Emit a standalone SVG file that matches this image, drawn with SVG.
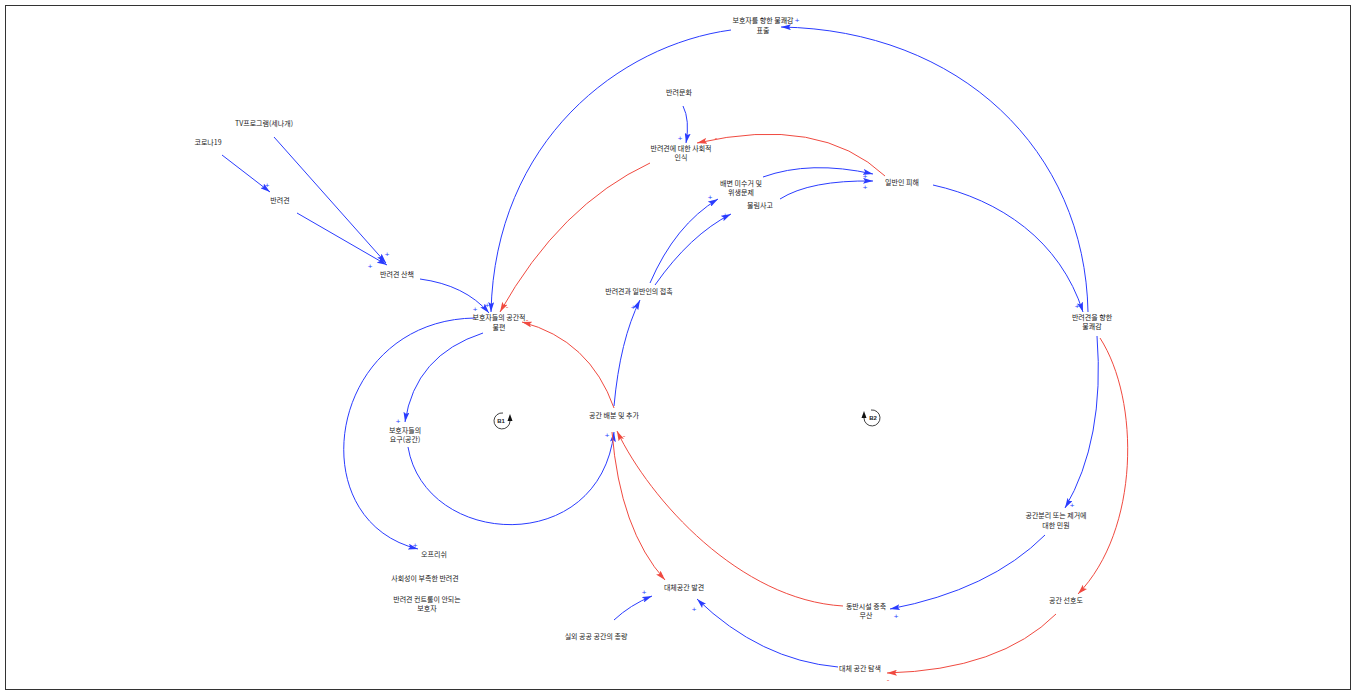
<svg xmlns="http://www.w3.org/2000/svg" width="1357" height="693" viewBox="0 0 1357 693">
<style>
.t{font-family:"Noto Sans CJK KR","Noto Sans",sans-serif;font-size:7px;fill:#222;text-anchor:middle}
.b{fill:none;stroke:#2a3cff;stroke-width:1}
.r{fill:none;stroke:#f04a40;stroke-width:1}
.pb{font-family:"Liberation Sans",sans-serif;font-size:8px;fill:#2a3cff;text-anchor:middle}
.pr{font-family:"Liberation Sans",sans-serif;font-size:8px;fill:#f04a40;text-anchor:middle}
.lp{font-family:"Liberation Sans",sans-serif;font-size:6px;fill:#222;text-anchor:middle;font-weight:bold}
.lc{fill:none;stroke:#111;stroke-width:0.8}
</style>
<defs>
<marker id="ab" viewBox="0 0 10 6" refX="10" refY="3" markerWidth="10" markerHeight="6" markerUnits="userSpaceOnUse" orient="auto"><path d="M0,0 L10,3 L0,6 L2,3 z" fill="#2a3cff"/></marker>
<marker id="ar" viewBox="0 0 10 6" refX="10" refY="3" markerWidth="10" markerHeight="6" markerUnits="userSpaceOnUse" orient="auto"><path d="M0,0 L10,3 L0,6 L2,3 z" fill="#f04a40"/></marker>
</defs>
<rect x="5.5" y="5.5" width="1345" height="684" fill="#fff" stroke="#333" stroke-width="1"/>
<g id="connectors">
<path class="b" d="M222,155 L270,192" marker-end="url(#ab)"/>
<path class="b" d="M297,213 L387,265" marker-end="url(#ab)"/>
<path class="b" d="M274,137 L386,263" marker-end="url(#ab)"/>
<path class="b" d="M420,279 Q465,285 489,313" marker-end="url(#ab)"/>
<path class="b" d="M731,30 C620,45 495,140 491,312" marker-end="url(#ab)"/>
<path class="r" d="M650,163 Q560,205 500,312" marker-end="url(#ar)"/>
<path class="r" d="M614,408 Q590,340 522,322" marker-end="url(#ar)"/>
<path class="b" d="M483,333 Q415,355 405,422" marker-end="url(#ab)"/>
<path class="b" d="M408,447 C425,548 600,558 614,432" marker-end="url(#ab)"/>
<path class="b" d="M475,318 C328,320 298,520 418,549" marker-end="url(#ab)"/>
<path class="b" d="M614,406 Q620,340 640,300" marker-end="url(#ab)"/>
<path class="b" d="M650,283 Q675,225 718,199" marker-end="url(#ab)"/>
<path class="b" d="M655,285 Q690,235 731,214" marker-end="url(#ab)"/>
<path class="b" d="M683,106 Q690,120 686,143" marker-end="url(#ab)"/>
<path class="r" d="M885,176 Q820,115 697,143" marker-end="url(#ar)"/>
<path class="b" d="M763,177 Q810,160 873,174" marker-end="url(#ab)"/>
<path class="b" d="M780,199 Q810,180 873,181" marker-end="url(#ab)"/>
<path class="b" d="M933,185 C1000,200 1060,240 1083,312" marker-end="url(#ab)"/>
<path class="b" d="M1088,312 C1085,150 960,30 781,27" marker-end="url(#ab)"/>
<path class="b" d="M1097,336 Q1105,440 1065,508" marker-end="url(#ab)"/>
<path class="r" d="M1100,338 C1140,400 1140,530 1078,594" marker-end="url(#ar)"/>
<path class="b" d="M1045,535 Q990,590 890,609" marker-end="url(#ab)"/>
<path class="r" d="M843,606 C740,600 650,500 617,431" marker-end="url(#ar)"/>
<path class="r" d="M612,432 Q620,530 665,580" marker-end="url(#ar)"/>
<path class="b" d="M614,620 Q630,605 652,596" marker-end="url(#ab)"/>
<path class="b" d="M838,667 Q760,660 697,599" marker-end="url(#ab)"/>
<path class="r" d="M1056,614 Q1000,670 887,673" marker-end="url(#ar)"/>
<text class="pb" x="267" y="188">+</text>
<text class="pb" x="370" y="269">+</text>
<text class="pb" x="387" y="257">+</text>
<text class="pb" x="487" y="308">+</text>
<text class="pb" x="475" y="312">+</text>
<text class="pr" x="507" y="309">-</text>
<text class="pr" x="527" y="322">-</text>
<text class="pb" x="398" y="424">+</text>
<text class="pb" x="607" y="438">+</text>
<text class="pb" x="415" y="548">+</text>
<text class="pb" x="633" y="310">+</text>
<text class="pb" x="710" y="200">+</text>
<text class="pb" x="725" y="218">+</text>
<text class="pb" x="680" y="141">+</text>
<text class="pr" x="716" y="140">-</text>
<text class="pb" x="865" y="179">+</text>
<text class="pb" x="865" y="190">+</text>
<text class="pb" x="1077" y="309">+</text>
<text class="pb" x="797" y="23">+</text>
<text class="pb" x="1072" y="508">+</text>
<text class="pr" x="1083" y="592">-</text>
<text class="pb" x="896" y="619">+</text>
<text class="pr" x="624" y="438">-</text>
<text class="pr" x="662" y="577">-</text>
<text class="pb" x="644" y="595">+</text>
<text class="pb" x="694" y="612">+</text>
<text class="pr" x="888" y="682">-</text>
</g>
<g id="n1"><text class="t" x="763" y="23">보호자를 향한 불쾌감</text><text class="t" x="763" y="33">표출</text></g>
<g id="n2"><text class="t" x="679" y="95">반려문화</text></g>
<g id="n3"><text class="t" x="681" y="151">반려견에 대한 사회적</text><text class="t" x="681" y="160">인식</text></g>
<g id="n4"><text class="t" x="264" y="126">TV프로그램(세나개)</text></g>
<g id="n5"><text class="t" x="208" y="145">코로나19</text></g>
<g id="n6"><text class="t" x="280" y="203">반려견</text></g>
<g id="n7"><text class="t" x="397" y="277">반려견 산책</text></g>
<g id="n8"><text class="t" x="499" y="320">보호자들의 공간적</text><text class="t" x="499" y="330">불편</text></g>
<g id="n9"><text class="t" x="741" y="186">배변 미수거 및</text><text class="t" x="741" y="195">위생문제</text></g>
<g id="n10"><text class="t" x="760" y="208">물림사고</text></g>
<g id="n11"><text class="t" x="902" y="185">일반인 피해</text></g>
<g id="n12"><text class="t" x="639" y="294">반려견과 일반인의 접촉</text></g>
<g id="n13"><text class="t" x="614" y="418">공간 배분 및 추가</text></g>
<g id="n14"><text class="t" x="405" y="433">보호자들의</text><text class="t" x="405" y="442">요구(공간)</text></g>
<g id="n15"><text class="t" x="434" y="557">오프리쉬</text></g>
<g id="n16"><text class="t" x="425" y="581">사회성이 부족한 반려견</text></g>
<g id="n17"><text class="t" x="427" y="602">반려견 컨트롤이 안되는</text><text class="t" x="427" y="611">보호자</text></g>
<g id="n18"><text class="t" x="684" y="590">대체공간 발견</text></g>
<g id="n19"><text class="t" x="596" y="639">실외 공공 공간의 총량</text></g>
<g id="n20"><text class="t" x="1092" y="320">반려견을 향한</text><text class="t" x="1092" y="329">불쾌감</text></g>
<g id="n21"><text class="t" x="1056" y="518">공간분리 또는 제거에</text><text class="t" x="1056" y="528">대한 민원</text></g>
<g id="n22"><text class="t" x="866" y="609">동반시설 증축</text><text class="t" x="866" y="618">무산</text></g>
<g id="n23"><text class="t" x="1066" y="603">공간 선호도</text></g>
<g id="n24"><text class="t" x="860" y="671">대체 공간 탐색</text></g>
<g id="loopB1"><path class="lc" d="M510,421 A8,8 0 1 1 503,413"/><polygon points="507.5,421 510,414 512.5,421" fill="#111"/><text class="lp" x="501" y="423">B1</text></g>
<g id="loopB2"><path class="lc" d="M864,418 A8,8 0 1 0 871,410"/><polygon points="861.5,418 864,411 866.5,418" fill="#111"/><text class="lp" x="873" y="420">B2</text></g>
</svg>
